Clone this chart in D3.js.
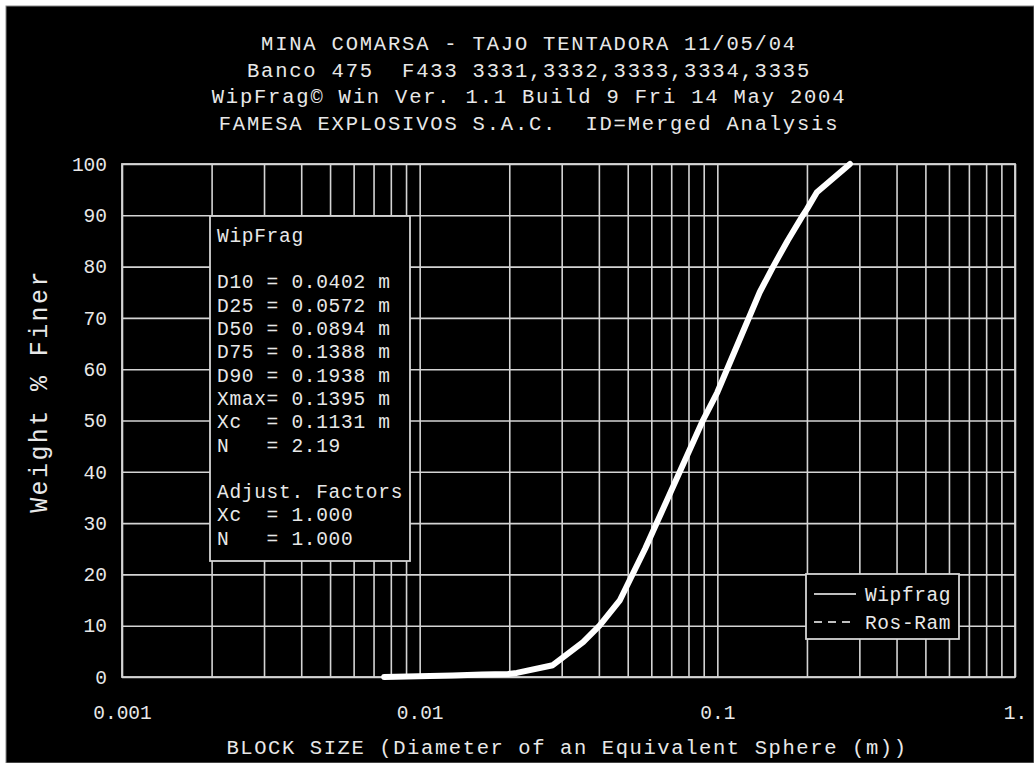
<!DOCTYPE html>
<html>
<head>
<meta charset="utf-8">
<script src="https://cdn.jsdelivr.net/npm/d3@7"></script>
<style>
  body { margin: 0; background: #fff; }
  svg text { font-family: "Liberation Mono", "DejaVu Sans Mono", monospace; fill: #e8e8e8; }
</style>
</head>
<body>
<div id="chart"></div>
<script>
// block size (m) vs cumulative % passing
const sizes   = [0.0076, 0.0129, 0.0162, 0.0198, 0.0212, 0.028, 0.0354, 0.0402, 0.0471, 0.0572, 0.0894, 0.1, 0.1388, 0.154, 0.172, 0.1938, 0.2, 0.216, 0.279];
const passing = [0,      0.3,    0.5,    0.6,    0.8,    2.3,   6.8,    10,     15,     25,     50,     55.5, 75,    80,    85,    90,     91.2, 94.5,  100];

const titleLines = [
    "MINA COMARSA - TAJO TENTADORA 11/05/04",
    "Banco 475  F433 3331,3332,3333,3334,3335",
    "WipFrag\u00a9 Win Ver. 1.1 Build 9 Fri 14 May 2004",
    "FAMESA EXPLOSIVOS S.A.C.  ID=Merged Analysis"
]
const statsLines = [
    "WipFrag", "",
    "D10 = 0.0402 m", "D25 = 0.0572 m", "D50 = 0.0894 m", "D75 = 0.1388 m",
    "D90 = 0.1938 m", "Xmax= 0.1395 m", "Xc  = 0.1131 m", "N   = 2.19", "",
    "Adjust. Factors", "Xc  = 1.000", "N   = 1.000"
]
const xTickLabels = { 0.001: "0.001", 0.01: "0.01", 0.1: "0.1", 1: "1." }
const yTicks = [0, 10, 20, 30, 40, 50, 60, 70, 80, 90, 100]
const legendNames = ["Wipfrag", "Ros-Ram"]

const W = 1034, H = 763
const plot = { left: 122, right: 1015, top: 164, bottom: 677 }
const gridCol = "#d4d4d4"

let svg = d3.select("#chart").append("svg")
    .attr("width", W).attr("height", H)

// black panel with thin grey edge
svg.append("rect").attr("x", 6).attr("y", 6).attr("width", W - 6).attr("height", H - 6)
    .attr("fill", "#000").attr("stroke", "#888").attr("stroke-width", 1)

const x = d3.scaleLog().domain([0.001, 1]).range([plot.left, plot.right])
const y = d3.scaleLinear().domain([0, 100]).range([plot.bottom, plot.top])

// every 1..9 inside each decade
let gridX = []
for (let e = -3; e < 0; e++) {
    for (let k = 1; k <= 9; k++) gridX.push(k * Math.pow(10, e))
}
gridX.push(1)

// vertical grid + x labels
let gx = svg.append("g")
    .attr("transform", "translate(0," + plot.bottom + ")")
    .call(d3.axisBottom(x).tickValues(gridX)
        .tickSize(-(plot.bottom - plot.top)).tickPadding(28)
        .tickFormat(d => xTickLabels[+d.toPrecision(3)] || ""))
gx.select(".domain").remove()
gx.selectAll("line").attr("stroke", gridCol).attr("stroke-width", 1.6)
gx.selectAll("text").attr("font-size", 19.5).attr("fill", "#e8e8e8")

// horizontal grid + y labels
let gy = svg.append("g")
    .attr("transform", "translate(" + plot.left + ",0)")
    .call(d3.axisLeft(y).tickValues(yTicks)
        .tickSize(-(plot.right - plot.left)).tickPadding(15)
        .tickFormat(d3.format("d")))
gy.select(".domain").remove()
gy.selectAll("line").attr("stroke", gridCol).attr("stroke-width", 1.6)
gy.selectAll("text").attr("font-size", 19.5).attr("fill", "#e8e8e8")

// frame
svg.append("rect")
    .attr("x", plot.left).attr("y", plot.top)
    .attr("width", plot.right - plot.left).attr("height", plot.bottom - plot.top)
    .attr("fill", "none").attr("stroke", gridCol).attr("stroke-width", 1.8)

// stats box
const box = { x: 210, y: 216, w: 200, h: 345 }
svg.append("rect").attr("x", box.x).attr("y", box.y).attr("width", box.w).attr("height", box.h)
    .attr("fill", "#000").attr("stroke", gridCol).attr("stroke-width", 1.8)
svg.append("g").selectAll("text")
    .data(statsLines).enter().append("text")
    .attr("x", box.x + 7)
    .attr("y", (d, i) => 235 + i * 23.3)
    .attr("dy", "0.35em")
    .attr("font-size", 19.5).attr("letter-spacing", 0.7)
    .style("white-space", "pre")
    .text(d => d)

// the curve
const line = d3.line()
    .x((d, i) => x(d))
    .y((d, i) => y(passing[i]))
svg.append("path")
    .datum(sizes)
    .attr("d", line)
    .attr("fill", "none").attr("stroke", "#fff")
    .attr("stroke-width", 6).attr("stroke-linejoin", "round").attr("stroke-linecap", "round")

// legend
const leg = { x: 806, y: 574, w: 153, h: 65 }
svg.append("rect").attr("x", leg.x).attr("y", leg.y).attr("width", leg.w).attr("height", leg.h)
    .attr("fill", "#000").attr("stroke", gridCol).attr("stroke-width", 1.8)
legendNames.forEach((name, i) => {
    let ly = leg.y + 20 + i * 28
    svg.append("line").attr("x1", leg.x + 8).attr("x2", leg.x + 50)
        .attr("y1", ly).attr("y2", ly)
        .attr("stroke", "#fff").attr("stroke-width", 1.3)
        .attr("stroke-dasharray", i === 1 ? "8,6" : null)
    svg.append("text").attr("x", leg.x + 59).attr("y", ly).attr("dy", "0.35em")
        .attr("font-size", 19.5).attr("letter-spacing", 0.6)
        .text(name)
})

// titles
svg.append("g").selectAll("text")
    .data(titleLines).enter().append("text")
    .attr("x", 529)
    .attr("y", (d, i) => 43 + i * 26.5)
    .attr("dy", "0.35em")
    .attr("text-anchor", "middle")
    .attr("font-size", 20.5).attr("letter-spacing", 1.8)
    .style("white-space", "pre")
    .text(d => d)

svg.append("text")
    .attr("x", 567).attr("y", 747).attr("dy", "0.35em")
    .attr("text-anchor", "middle")
    .attr("font-size", 20.5).attr("letter-spacing", 1.6)
    .text("BLOCK SIZE (Diameter of an Equivalent Sphere (m))")

svg.append("text")
    .attr("transform", "translate(38,391) rotate(-90)")
    .attr("dy", "0.35em")
    .attr("text-anchor", "middle")
    .attr("font-size", 25).attr("letter-spacing", 2.4)
    .text("Weight % Finer")
</script>
</body>
</html>
